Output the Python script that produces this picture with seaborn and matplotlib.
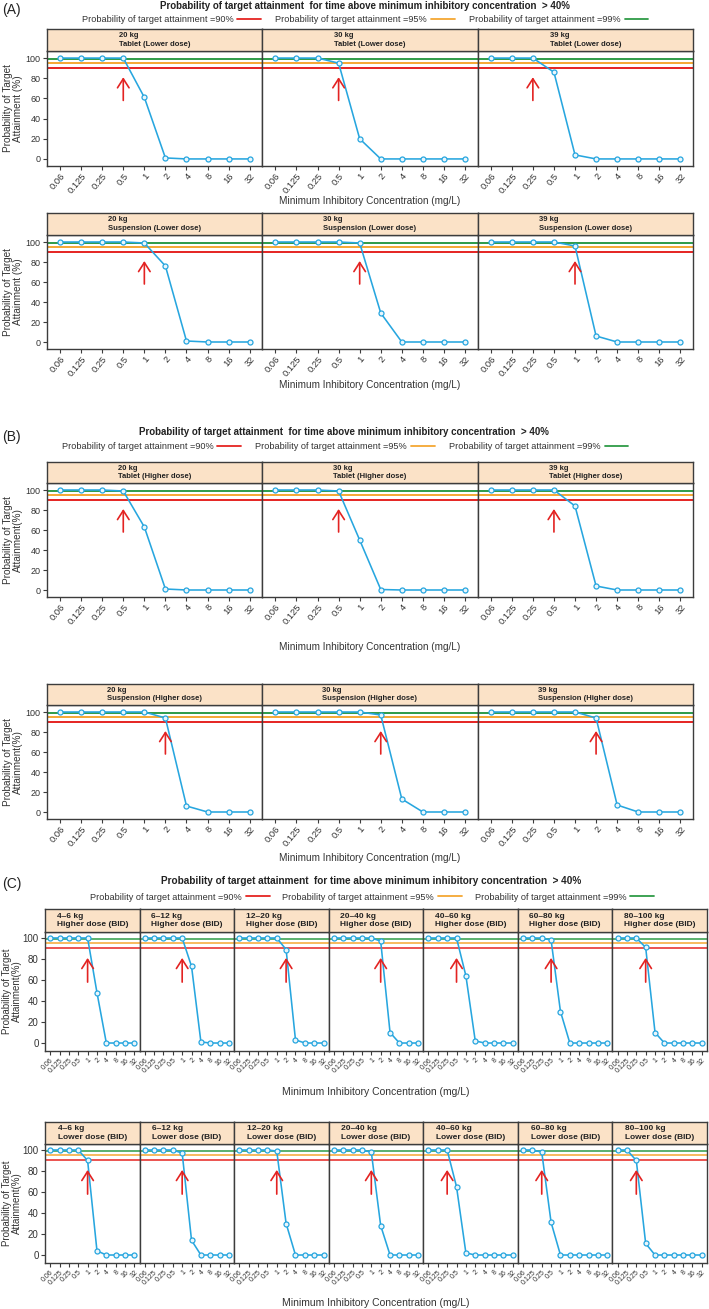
import numpy as np
import pandas as pd
import matplotlib
matplotlib.use("Agg")
import matplotlib.pyplot as plt
import seaborn as sns
from matplotlib.lines import Line2D
from matplotlib import font_manager

sns.set_theme(style="white")
avail = {f.name for f in font_manager.fontManager.ttflist}
REG = "Liberation Sans" if "Liberation Sans" in avail else "DejaVu Sans"
NARROW = "Liberation Sans Narrow" if "Liberation Sans Narrow" in avail else REG
plt.rcParams['font.family'] = [REG, 'DejaVu Sans']

# ---------------- data ----------------
mic_labels = ["0.06", "0.125", "0.25", "0.5", "1", "2", "4", "8", "16", "32"]
thresholds = [90, 95, 99]
threshold_labels = ["Probability of target attainment =90%",
                    "Probability of target attainment =95%",
                    "Probability of target attainment =99%"]

weights_AB = ["20 kg", "30 kg", "39 kg"]
weights_C = ["4\u20136 kg", "6\u201312 kg", "12\u201320 kg", "20\u201340 kg",
             "40\u201360 kg", "60\u201380 kg", "80\u2013100 kg"]

# (A) lower dose
pta_A_tablet = [[100, 100, 100, 100, 61, 1, 0, 0, 0, 0],
                [100, 100, 100, 95, 20, 0, 0, 0, 0, 0],
                [100, 100, 100, 86, 4, 0, 0, 0, 0, 0]]
arrow_A_tablet = [3, 3, 2]
pta_A_susp = [[100, 100, 100, 100, 99, 76, 1, 0, 0, 0],
              [100, 100, 100, 100, 99, 29, 0, 0, 0, 0],
              [100, 100, 100, 100, 96, 6, 0, 0, 0, 0]]
arrow_A_susp = [4, 4, 4]

# (B) higher dose
pta_B_tablet = [[100, 100, 100, 99, 63, 1, 0, 0, 0, 0],
                [100, 100, 100, 99, 50, 0.5, 0, 0, 0, 0],
                [100, 100, 100, 100, 84, 4, 0, 0, 0, 0]]
arrow_B_tablet = [3, 3, 3]
pta_B_susp = [[100, 100, 100, 100, 100, 94, 6, 0, 0, 0],
              [100, 100, 100, 100, 100, 97, 13, 0, 0, 0],
              [100, 100, 100, 100, 100, 94, 7, 0, 0, 0]]
arrow_B_susp = [5, 5, 5]

# (C) BID
pta_C_higher = [[100, 100, 100, 100, 100, 48, 0, 0, 0, 0],
                [100, 100, 100, 100, 100, 73, 1, 0, 0, 0],
                [100, 100, 100, 100, 100, 89, 3, 0, 0, 0],
                [100, 100, 100, 100, 100, 97, 10, 0, 0, 0],
                [100, 100, 100, 100, 64, 2, 0, 0, 0, 0],
                [100, 100, 100, 98, 30, 0, 0, 0, 0, 0],
                [100, 100, 100, 91, 10, 0, 0, 0, 0, 0]]
arrow_C_higher = [4, 4, 5, 5, 3, 3, 3]
pta_C_lower = [[100, 100, 100, 100, 90, 4, 0, 0, 0, 0],
               [100, 100, 100, 100, 97, 14, 0, 0, 0, 0],
               [100, 100, 100, 100, 99, 30, 0, 0, 0, 0],
               [100, 100, 100, 100, 98, 28, 0, 0, 0, 0],
               [100, 100, 100, 65, 2, 0, 0, 0, 0, 0],
               [100, 100, 98, 31, 0, 0, 0, 0, 0, 0],
               [100, 100, 90, 11, 0, 0, 0, 0, 0, 0]]
arrow_C_lower = [4, 4, 4, 4, 2, 2, 2]

title_text = "Probability of target attainment  for time above minimum inhibitory concentration  > 40%"
xlabel_text = "Minimum Inhibitory Concentration (mg/L)"

# ---------------- style ----------------
LINE = "#27A6DF"
PEACH = "#FBE2C7"
THR_COLORS = ["#E52421", "#F5A733", "#2E9B47"]
FRAME = "#3C3C3C"
ARROW = "#E32322"

W, H = 709, 1309
fig = plt.figure(figsize=(W / 100, H / 100), dpi=100)


def fx(x):
    return x / W


def fy(y):
    return 1 - y / H


def draw_row(series, arrows, line1, line2, left, right, s_top, s_bot, p_bot,
             ylabel, font, strip_fs, ytick_fs, xtick_fs, ylab_fs, ylim, xlim,
             thr_lw, rot, ylab_pad):
    n = len(series)
    pw = (right - left) / n
    for i in range(n):
        x0 = left + i * pw
        ax = fig.add_axes([fx(x0), fy(p_bot), pw / W, (p_bot - s_bot) / H])
        for val, col in zip(thresholds, THR_COLORS):
            ax.axhline(val, color=col, lw=thr_lw, zorder=1)
        df = pd.DataFrame({"MIC": mic_labels, "PTA": series[i]})
        sns.lineplot(data=df, x="MIC", y="PTA", ax=ax, sort=False, color=LINE,
                     lw=1.15, marker="o", markersize=3.6, markerfacecolor="#EAF6FC",
                     markeredgecolor=LINE, markeredgewidth=0.9, zorder=3)
        ax.annotate("", xy=(arrows[i], 81), xytext=(arrows[i], 58),
                    arrowprops=dict(arrowstyle="->,head_length=0.5,head_width=0.32",
                                    color=ARROW, lw=1.2, mutation_scale=13,
                                    shrinkA=0, shrinkB=0), zorder=4)
        ax.set_xlim(*xlim)
        ax.set_ylim(*ylim)
        ax.set_yticks([0, 20, 40, 60, 80, 100])
        ax.set_xlabel("")
        ax.set_facecolor("white")
        for sp in ax.spines.values():
            sp.set_visible(True)
            sp.set_color(FRAME)
            sp.set_linewidth(1.0)
        ax.tick_params(axis="x", bottom=True, direction="out", length=3,
                       width=0.8, color=FRAME, labelsize=xtick_fs, pad=1,
                       labelcolor="#333333")
        for lab in ax.get_xticklabels():
            lab.set_rotation(rot)
            lab.set_ha("right")
            lab.set_rotation_mode("anchor")
            lab.set_family([font, "DejaVu Sans"])
        if i == 0:
            ax.tick_params(axis="y", left=True, direction="out", length=3,
                           width=0.8, color=FRAME, labelsize=ytick_fs, pad=1.5,
                           labelcolor="#333333")
            ax.set_ylabel(ylabel, fontsize=ylab_fs, labelpad=ylab_pad,
                          color="#333333", linespacing=1.0)
        else:
            ax.tick_params(axis="y", left=False, labelleft=False)
            ax.set_ylabel("")
        ax.grid(False)
        # strip
        axs = fig.add_axes([fx(x0), fy(s_bot), pw / W, (s_bot - s_top) / H])
        axs.set_facecolor(PEACH)
        axs.set_xticks([])
        axs.set_yticks([])
        for sp in axs.spines.values():
            sp.set_visible(True)
            sp.set_color(FRAME)
            sp.set_linewidth(1.0)
        axs.text(0.5, 0.5, f"{line1[i]}\n{line2}", ha="center", va="center",
                 multialignment="left", fontsize=strip_fs, fontweight="bold",
                 family=[font, "DejaVu Sans"], color="#222222",
                 transform=axs.transAxes, linespacing=1.25)


def header(label, ty, ly, cx_title, cx_leg, font, t_fs, l_fs, lab_y, hl, cs):
    fig.text(fx(2), fy(lab_y), label, fontsize=10, ha="left", va="center",
             color="#222222", family=[REG, "DejaVu Sans"])
    fig.text(fx(cx_title), fy(ty), title_text, fontsize=t_fs, fontweight="bold",
             ha="center", va="center", family=[font, "DejaVu Sans"], color="#222222")
    handles = [Line2D([], [], color=c, lw=1.3) for c in THR_COLORS]
    fig.legend(handles, threshold_labels, loc="center", ncol=3,
               bbox_to_anchor=(fx(cx_leg), fy(ly)), frameon=False,
               markerfirst=False, handlelength=hl, handletextpad=0.4,
               columnspacing=cs, prop={"family": [font, "DejaVu Sans"], "size": l_fs},
               labelcolor="#333333")


def xlab(y, cx, font, fs):
    fig.text(fx(cx), fy(y), xlabel_text, ha="center", va="center", fontsize=fs,
             family=[font, "DejaVu Sans"], color="#333333")


ylab_A = "Probability of Target\nAttainment (%)"
ylab_B = "Probability of Target\nAttainment(%)"
ylim_AB = (-7, 107)
xlim_AB = (-0.62, 9.6)

# ---- Panel A ----
header("(A)", 6, 20, 365, 365, NARROW, 7, 6.6, 10, 2.6, 1.6)
draw_row(pta_A_tablet, arrow_A_tablet, weights_AB, "Tablet (Lower dose)",
         47, 693, 29, 51, 166, ylab_A, NARROW, 5.5, 6.5, 6.7, 7.2, ylim_AB, xlim_AB, 1.4, 50, 2)
xlab(201, 370, NARROW, 7.2)
draw_row(pta_A_susp, arrow_A_susp, weights_AB, "Suspension (Lower dose)",
         47, 693, 213, 235, 349, ylab_A, NARROW, 5.5, 6.5, 6.7, 7.2, ylim_AB, xlim_AB, 1.4, 50, 2)
xlab(385, 370, NARROW, 7.2)

# ---- Panel B ----
header("(B)", 432, 447, 344, 345, NARROW, 7, 6.6, 437, 2.6, 1.6)
draw_row(pta_B_tablet, arrow_B_tablet, weights_AB, "Tablet (Higher dose)",
         47, 693, 462, 483, 597, ylab_B, NARROW, 5.5, 6.5, 6.7, 7.2, ylim_AB, xlim_AB, 1.4, 50, 2)
xlab(647, 370, NARROW, 7.2)
draw_row(pta_B_susp, arrow_B_susp, weights_AB, "Suspension (Higher dose)",
         47, 693, 684, 705, 819, ylab_B, NARROW, 5.5, 6.5, 6.7, 7.2, ylim_AB, xlim_AB, 1.4, 50, 2)
xlab(858, 370, NARROW, 7.2)

# ---- Panel C ----
header("(C)", 881, 897, 371, 372, REG, 7.2, 6.6, 884, 2.6, 1.4)
draw_row(pta_C_higher, arrow_C_higher, weights_C, "Higher dose (BID)",
         45, 707, 909, 932, 1051, ylab_B, REG, 6.0, 7.0, 5.0, 7.0, (-7.6, 105.7), (-0.55, 9.55), 1.1, 45, 0.5)
xlab(1092, 376, REG, 7.5)
draw_row(pta_C_lower, arrow_C_lower, weights_C, "Lower dose (BID)",
         45, 707, 1122, 1144, 1263, ylab_B, REG, 6.0, 7.0, 5.0, 7.0, (-7.6, 105.7), (-0.55, 9.55), 1.1, 45, 0.5)
xlab(1303, 376, REG, 7.5)

fig.savefig("out.png", dpi=100, facecolor="white")
